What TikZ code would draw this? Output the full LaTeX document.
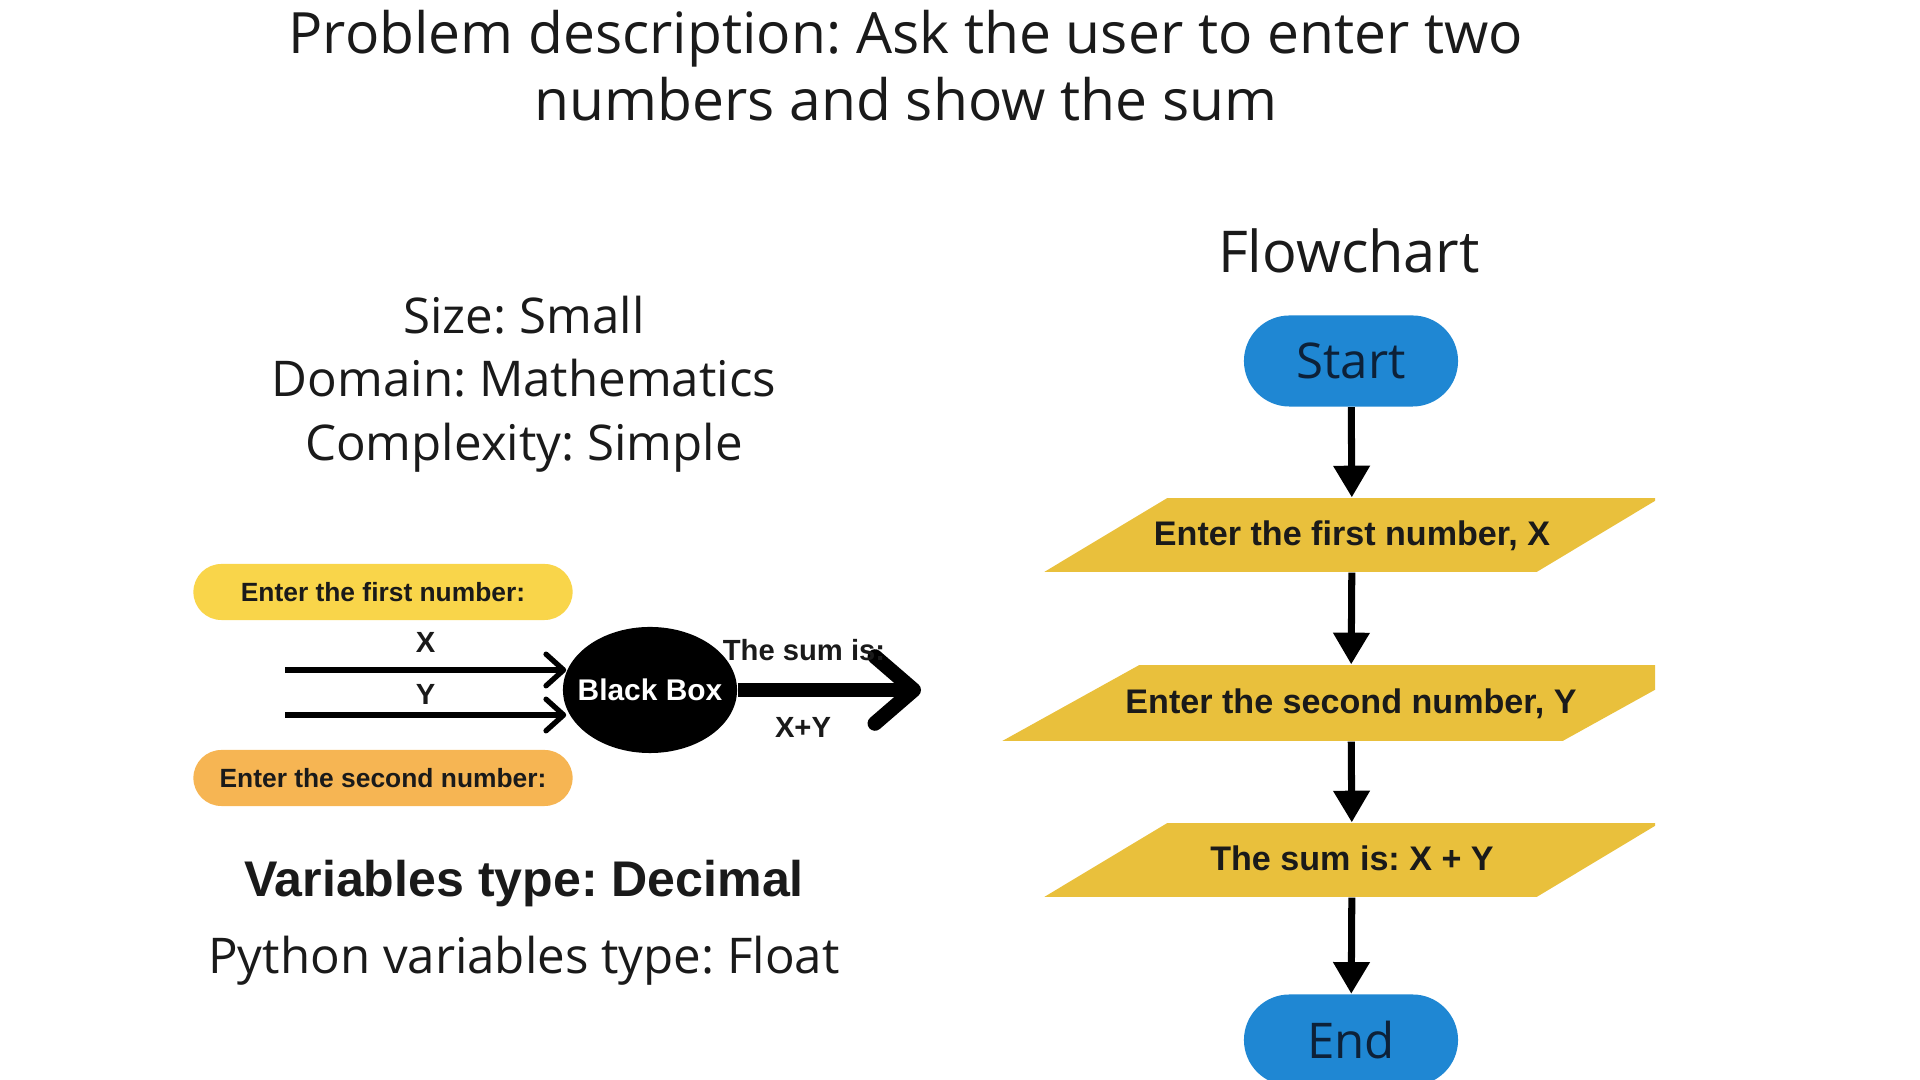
\documentclass[tikz,border=0pt]{standalone}
\usepackage{fontspec}
\setmainfont{Open Sans}
\newfontfamily\arialfont{Liberation Sans}
\usetikzlibrary{positioning, calc, shapes.geometric, shapes.misc, arrows.meta}
\frenchspacing

\definecolor{flowyellow}{HTML}{E9C03C}
\definecolor{pillyellow}{HTML}{F9D54A}
\definecolor{pillorange}{HTML}{F6B553}
\definecolor{flowblue}{HTML}{1F87D3}
\definecolor{navy}{HTML}{0D2138}
\definecolor{ink}{HTML}{1A1A1A}

\begin{document}
\begin{tikzpicture}[x=0.01cm, y=-0.01cm,
	io/.style={trapezium, trapezium stretches body, fill=flowyellow, inner xsep=-4.5pt, text height=7.2pt, text depth=1.5pt, text=ink, font=\arialfont\bfseries\fontsize{9.7}{11}\selectfont},
	terminal/.style={rounded rectangle, fill=flowblue, minimum width=2.14cm, minimum height=0.91cm, inner sep=0pt, text=navy, font=\fontsize{14}{16}\selectfont},
	pill/.style={rounded rectangle, minimum width=3.79cm, minimum height=0.56cm, inner sep=0pt, text=ink, font=\arialfont\bfseries\fontsize{7.5}{9}\selectfont},
	flowarrow/.style={line width=2pt, -{Triangle[width=10pt,length=9pt]}},
	inarrow/.style={line width=1.5pt, -{Straight Barb[width=9pt,length=5pt,round]}},
	outarrow/.style={line width=4.2pt, -{Straight Barb[width=19pt,length=11pt,round]}},
	small/.style={text=ink, font=\arialfont\bfseries\fontsize{8.3}{10}\selectfont}]
	\useasboundingbox (0,0) rectangle (1920,1080);
	
	% headings
	\node (title) at (906, 66) [align=center, text=ink, font=\fontsize{16.2}{19.1}\selectfont] {Problem description: Ask the user to enter two\\numbers and show the sum};
	\node (info) at (524, 384) [align=center, text=ink, font=\fontsize{14}{18}\selectfont] {Size: Small\\Domain: Mathematics\\Complexity: Simple};
	\node (fctitle) at (1349, 251) [text=ink, font=\fontsize{16.4}{19}\selectfont] {Flowchart};
	
	% black box
	\node (ask1) at (383, 592) [pill, fill=pillyellow] {Enter the first number:};
	\node (ask2) at (383, 778) [pill, fill=pillorange] {Enter the second number:};
	\node (bb) at (650, 690) [ellipse, fill=black, minimum width=1.74cm, minimum height=1.26cm, inner xsep=-14pt, inner ysep=0pt, text=white, font=\arialfont\bfseries\fontsize{8.5}{10}\selectfont] {Black Box};
	\coordinate (xin) at (285, 670);
	\coordinate (yin) at (285, 715);
	\coordinate (sumtip) at (921, 690);
	\draw[inarrow] (xin) -- ($(xin -| bb.west)+(4,0)$) node[midway, above=1pt, small] (xlab) {X};
	\draw[inarrow] (yin) -- ($(yin -| bb.west)+(4,0)$) node[midway, above=-1pt, small] (ylab) {Y};
	\draw[outarrow] (bb.east) -- (sumtip);
	\node (sumlab) at (804, 650) [small] {The sum is:};
	\node (xylab) at (803, 727) [small] {X+Y};
	
	\node (vartype) at (524, 884) [text=ink, font=\arialfont\bfseries\fontsize{14.25}{16}\selectfont] {Variables type: Decimal};
	\node (pytype) at (524, 961) [text=ink, font=\fontsize{14}{16}\selectfont] {Python variables type: Float};
	
	% flowchart
	\node (start) at (1351, 361) [terminal] {Start};
	\begin{scope}
		\clip (0,0) rectangle (1655,1080);
		\node (in1) at (1352, 535) [io, trapezium left angle=31, trapezium right angle=149, inner ysep=6.15pt, minimum width=6.15cm] {Enter the first number, X};
		\node (in2) at (1351, 703) [io, trapezium left angle=29, trapezium right angle=151, inner ysep=6.45pt, minimum width=6.97cm] {Enter the second number, Y};
		\node (out) at (1352, 860) [io, trapezium left angle=31, trapezium right angle=149, inner ysep=6.15pt, minimum width=6.15cm] {The sum is: X + Y};
	\end{scope}
	\node (end) at (1351, 1040) [terminal] {End};
	
	\draw[flowarrow] (start) to (in1);
	\draw[flowarrow] (in1) to (in2);
	\draw[flowarrow] (in2) to (out);
	\draw[flowarrow] (out) to (end);
\end{tikzpicture}
\end{document}
